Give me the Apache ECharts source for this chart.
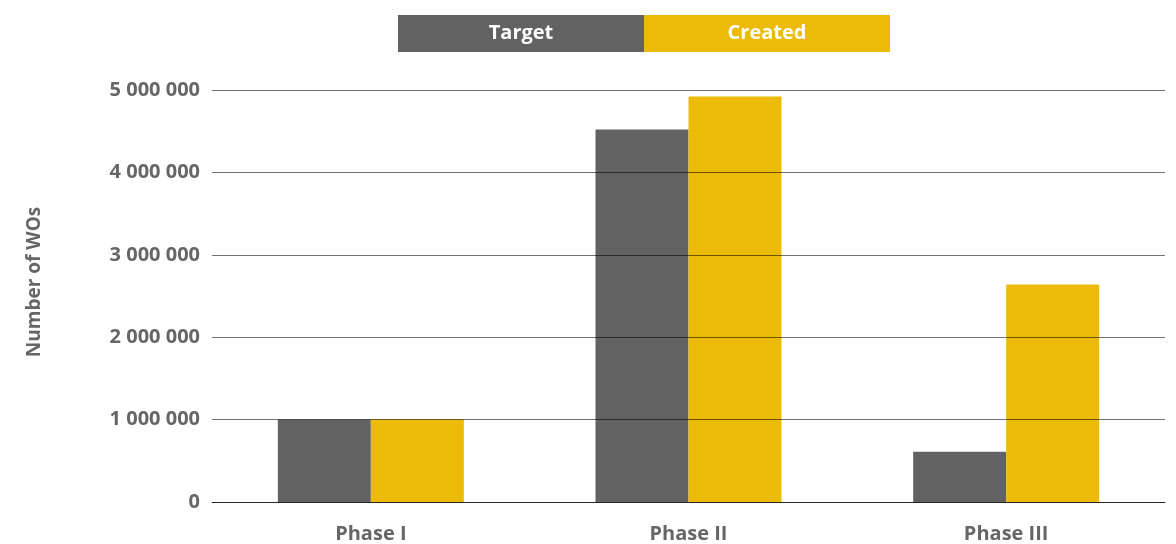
<!DOCTYPE html>
<html><head><meta charset="utf-8">
<script src="https://cdn.jsdelivr.net/npm/echarts@6/dist/echarts.min.js"></script>
<style>html,body{margin:0;padding:0;background:#fff}#c{width:1176px;height:544px}</style>
</head><body><div id="c"></div>
<script>
const categories = ['Phase I', 'Phase II', 'Phase III'];
const seriesNames = ['Target', 'Created'];
const targetValues = [1000000, 4520000, 610000];
const createdValues = [1005000, 4920000, 2640000];
const yTicks = { min: 0, max: 5000000, interval: 1000000 };
const colors = ['#626262', '#EBBB07'];
const font = '"Open Sans", sans-serif';

const chart = echarts.init(document.getElementById('c'), null, { renderer: 'canvas' });
const fmt = v => String(v).replace(/\B(?=(\d{3})+(?!\d))/g, ' ');
const richBox = bg => ({ backgroundColor: bg, color: '#fff', width: 246, height: 37, align: 'center', fontSize: 20, fontWeight: 'bold', fontFamily: font, lineHeight: 39 });
chart.setOption({
  animation: false,
  color: colors,
  legend: {
    top: 10, left: 388,
    icon: 'none', itemWidth: 0, itemHeight: 0, itemGap: -5,
    selectedMode: false,
    data: seriesNames,
    formatter: n => '{' + (n === 'Target' ? 't' : 'c') + '|' + n + '}',
    textStyle: { rich: { t: richBox(colors[0]), c: richBox(colors[1]) } }
  },
  grid: { left: 212, right: 11, top: 90, bottom: 38, containLabel: false },
  xAxis: {
    type: 'category', data: categories,
    axisTick: { show: false },
    axisLine: { lineStyle: { color: '#555', width: 1 } },
    axisLabel: { color: '#666', fontSize: 20, fontWeight: 'bold', fontFamily: font, margin: 22 }
  },
  yAxis: {
    type: 'value', min: yTicks.min, max: yTicks.max, interval: yTicks.interval,
    z: 10,
    name: 'Number of WOs', nameLocation: 'middle', nameRotate: 90, nameGap: 168,
    nameTextStyle: { color: '#666', fontSize: 19, fontWeight: 'bold', fontFamily: font, padding: [0, 0, 0, 28] },
    axisLine: { show: false }, axisTick: { show: false },
    axisLabel: { color: '#666', fontSize: 20, fontWeight: 'bold', fontFamily: font, margin: 12, formatter: fmt },
    splitLine: { lineStyle: { color: 'rgba(0,0,0,0.55)', width: 1 } }
  },
  series: [
    { name: seriesNames[0], type: 'bar', data: targetValues, barWidth: 93, barGap: '0%', itemStyle: { color: colors[0] } },
    { name: seriesNames[1], type: 'bar', data: createdValues, barWidth: 93, barGap: '0%', itemStyle: { color: colors[1] } }
  ]
});
</script></body></html>
